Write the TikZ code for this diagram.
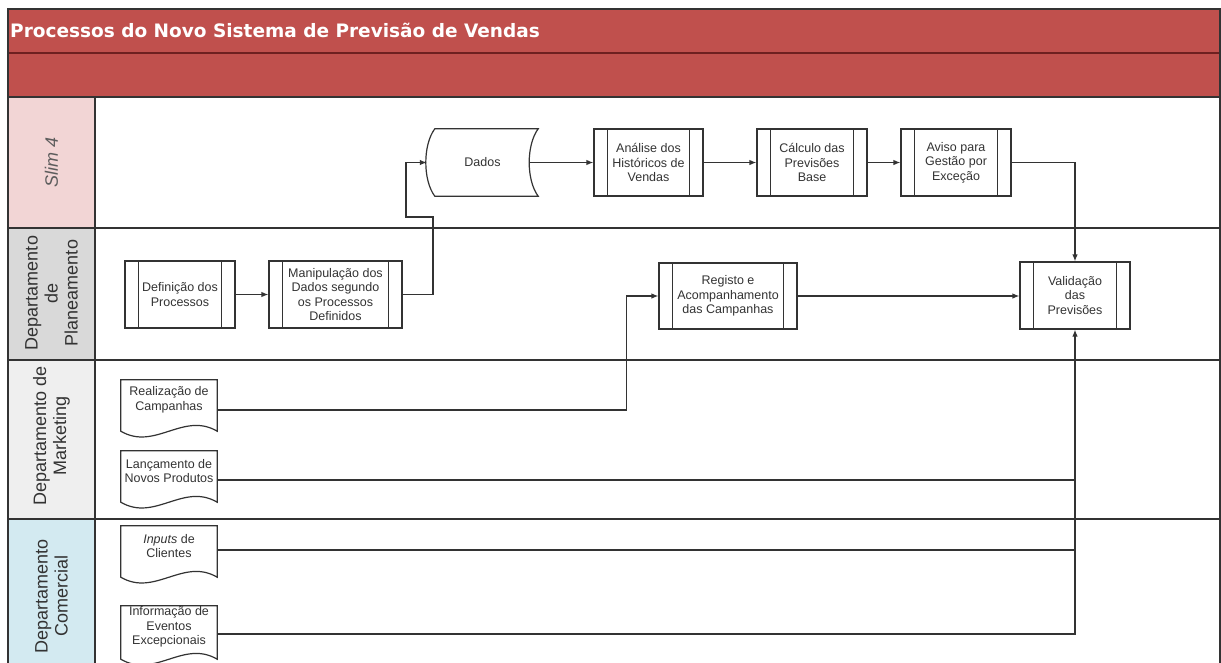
\documentclass[tikz,border=0pt]{standalone}
\usepackage{fontspec}
\setmainfont{Liberation Sans}
\newfontfamily\titlefont{DejaVu Sans}
\usetikzlibrary{arrows.meta,calc}

\definecolor{band}{HTML}{C0504D}
\definecolor{bandline}{HTML}{6E2020}
\definecolor{slimbg}{HTML}{F2D5D5}
\definecolor{planbg}{HTML}{D9D9D9}
\definecolor{mktbg}{HTML}{EFEFEF}
\definecolor{combg}{HTML}{D3EAF1}
\definecolor{ink}{HTML}{333333}

\tikzset{
  lanerule/.style={draw=ink, line width=1.4pt},
  lanelabel/.style={rotate=90, align=center, text=ink,
    font=\fontsize{18}{20}\selectfont},
  proc/.style={draw=ink, line width=1.2pt, fill=white, align=center,
    inner sep=0pt, minimum height=67pt, text=ink,
    path picture={
      \draw[ink, line width=1.2pt]
        ([xshift=13.5pt]path picture bounding box.north west) --
        ([xshift=13.5pt]path picture bounding box.south west)
        ([xshift=-13.5pt]path picture bounding box.north east) --
        ([xshift=-13.5pt]path picture bounding box.south east);}},
  docnode/.style={align=center, inner sep=0pt, minimum width=96pt,
    minimum height=40pt, text=ink},
  docline/.style={draw=ink, line width=1.2pt},
  conn/.style={draw=ink, line width=1.2pt},
  arr/.style={conn, -{Latex[length=7pt,width=5.5pt]}},
}

% document symbol: flat top, straight sides, wavy bottom 11pt below the node
\newcommand{\docshape}[1]{%
  \draw[docline] (#1.north west) -- (#1.north east)
    -- ([yshift=-11pt]#1.south east)
    .. controls +(-34,-20) and +(34,20) .. ([yshift=-11pt]#1.south west)
    -- cycle;}

\begin{document}
\begin{tikzpicture}[x=1pt, y=-1pt, font=\fontsize{12.5}{14.5}\selectfont]
\useasboundingbox (0,0) rectangle (1221,662);
\fill[white] (0,0) rectangle (1221,662);

% title bands
\fill[band] (8,9) rectangle (1220,97);
\node[anchor=west, text=white, inner sep=0pt,
      font=\fontsize{18.5}{22}\titlefont\bfseries] (title) at (10,30)
  {Processos do Novo Sistema de Previsão de Vendas};

% lane headers
\fill[slimbg] (8,97) rectangle (95,228);
\fill[planbg] (8,228) rectangle (95,360);
\fill[mktbg]  (8,360) rectangle (95,519);
\fill[combg]  (8,519) rectangle (95,664);

% frame and lane rules
\draw[draw=bandline, line width=1.4pt] (8,53) -- (1220,53);
\draw[lanerule] (8,664) -- (8,9) -- (1220,9) -- (1220,664);
\draw[lanerule] (8,97) -- (1220,97);
\draw[lanerule] (8,228) -- (1220,228);
\draw[lanerule] (8,360) -- (1220,360);
\draw[lanerule] (8,519) -- (1220,519);
\draw[lanerule] (95,97) -- (95,664);

% lane labels
\node[lanelabel, text=ink!80, font=\fontsize{18}{20}\selectfont\itshape] (lslim) at (51.5,162) {Slim 4};
\node[lanelabel] (lplan) at (51.5,293) {Departamento\\de\\Planeamento};
\node[lanelabel] (lmkt)  at (51.5,436) {Departamento de\\Marketing};
\node[lanelabel] (lcom)  at (51.5,596) {Departamento\\Comercial};

% Slim 4 lane
\node[minimum width=111pt, minimum height=67pt, inner sep=0pt, text=ink] (dados) at (482.5,162.5) {Dados};
\draw[docline] ([xshift=8pt]dados.north west) -- (dados.north east)
  .. controls +(-12,16) and +(-12,-16) .. (dados.south east)
  -- ([xshift=8pt]dados.south west)
  .. controls +(-12,-16) and +(-12,16) .. ([xshift=8pt]dados.north west) -- cycle;
\node[proc, minimum width=109pt] (anal)  at (648.5,162.5) {Análise dos\\Históricos de\\Vendas};
\node[proc, minimum width=110pt] (calc)  at (812,162.5)   {Cálculo das\\Previsões\\Base};
\node[proc, minimum width=110pt] (aviso) at (956,162.5)   {Aviso para\\Gestão por\\Exceção};

% Planeamento lane
\node[proc, minimum width=110pt] (def)   at (180,294.5)   {Definição dos\\Processos};
\node[proc, minimum width=133pt] (manip) at (335.5,294.5) {Manipulação dos\\Dados segundo\\os Processos\\Definidos};
\node[proc, minimum width=138pt, minimum height=66pt] (reg) at (728,296) {Registo e\\Acompanhamento\\das Campanhas};
\node[proc, minimum width=110pt] (valid) at (1075,295.5)  {Validação\\das\\Previsões};

% Marketing and Comercial lanes
\node[docnode] (real)  at (169,400) {Realização de\\Campanhas};
\node[docnode] (lanc)  at (169,471) {Lançamento de\\Novos Produtos};
\node[docnode] (inp)   at (169,546) {\textit{Inputs} de\\Clientes};
\node[docnode, minimum height=42pt] (info) at (169,627) {Informação de\\Eventos\\Excepcionais};
\docshape{real}
\docshape{lanc}
\docshape{inp}
\docshape{info}

% connectors
\draw[arr] (def.east) -- (manip.west);
\draw[arr] (manip.east) -| (433,217) -- (406,217) |- (dados.west);
\draw[arr] ([xshift=-9pt]dados.east) -- (anal.west);
\draw[arr] (anal.east) -- (calc.west);
\draw[arr] (calc.east) -- (aviso.west);
\draw[arr] (aviso.east) -| (valid.north);
\draw[arr] (reg.east) -- (reg.east -| valid.west);
\draw[arr] ([yshift=-10pt]real.east) -| ([xshift=-32pt]reg.west) -- (reg.west);
\draw[conn] ([yshift=-9pt]lanc.east) -- ([yshift=-9pt]lanc.east -| valid.south);
\draw[conn] ([yshift=-4pt]inp.east) -- ([yshift=-4pt]inp.east -| valid.south);
\draw[arr] ([yshift=-7pt]info.east) -| (valid.south);
\end{tikzpicture}
\end{document}
